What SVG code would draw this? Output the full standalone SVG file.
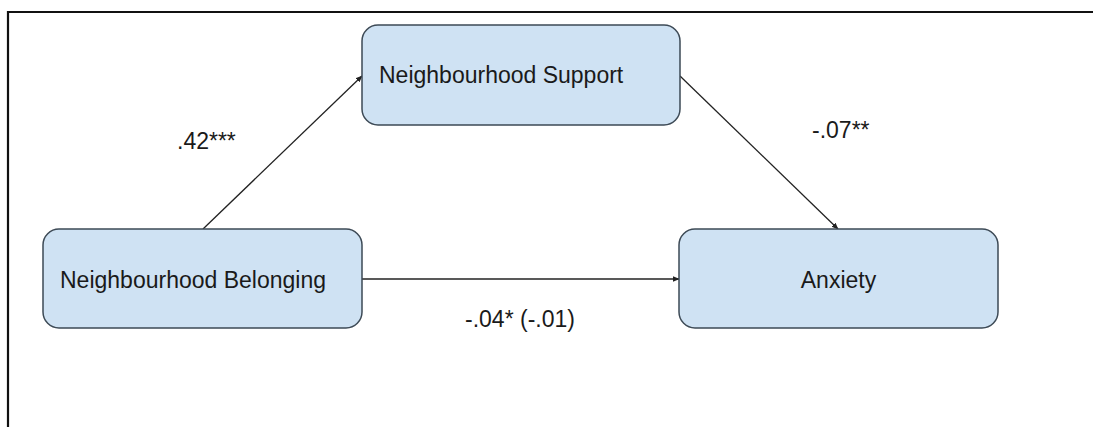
<svg xmlns="http://www.w3.org/2000/svg" width="1093" height="427" viewBox="0 0 1093 427">
  <style>
    .node rect { fill: #cfe2f3; stroke: #3d4a56; stroke-width: 1.5; }
    .node text, .label { font-family: "Liberation Sans", Arial, sans-serif; font-size: 23px; fill: #1a1a1a; }
    .edge { stroke: #222; stroke-width: 1.3; fill: none; marker-end: url(#arrow); }
  </style>
  <defs>
    <marker id="arrow" viewBox="0 0 10 10" refX="9" refY="5" markerWidth="7" markerHeight="7" markerUnits="userSpaceOnUse" orient="auto">
      <path d="M0,1 L10,5 L0,9 z" fill="#222"/>
    </marker>
  </defs>
  <rect width="1093" height="427" fill="#ffffff"/>
  <!-- outer frame -->
  <path d="M8,440 L8,12 L1100,12" fill="none" stroke="#111" stroke-width="2.2"/>

  <g id="connectors">
    <line class="edge" x1="203" y1="229" x2="362" y2="76"/>
    <line class="edge" x1="680" y1="76" x2="838" y2="229"/>
    <line class="edge" x1="362" y1="279" x2="679" y2="279"/>
    <text class="label" x="177" y="149">.42***</text>
    <text class="label" x="812" y="138">-.07**</text>
    <text class="label" x="465" y="327">-.04* (-.01)</text>
  </g>

  <g id="node-support" class="node">
    <rect x="362" y="25" width="318" height="100" rx="16"/>
    <text x="379" y="83">Neighbourhood Support</text>
  </g>

  <g id="node-belonging" class="node">
    <rect x="43" y="229" width="319" height="99" rx="16"/>
    <text x="60" y="288">Neighbourhood Belonging</text>
  </g>

  <g id="node-anxiety" class="node">
    <rect x="679" y="229" width="319" height="99" rx="16"/>
    <text x="838.5" y="288" text-anchor="middle">Anxiety</text>
  </g>
</svg>
